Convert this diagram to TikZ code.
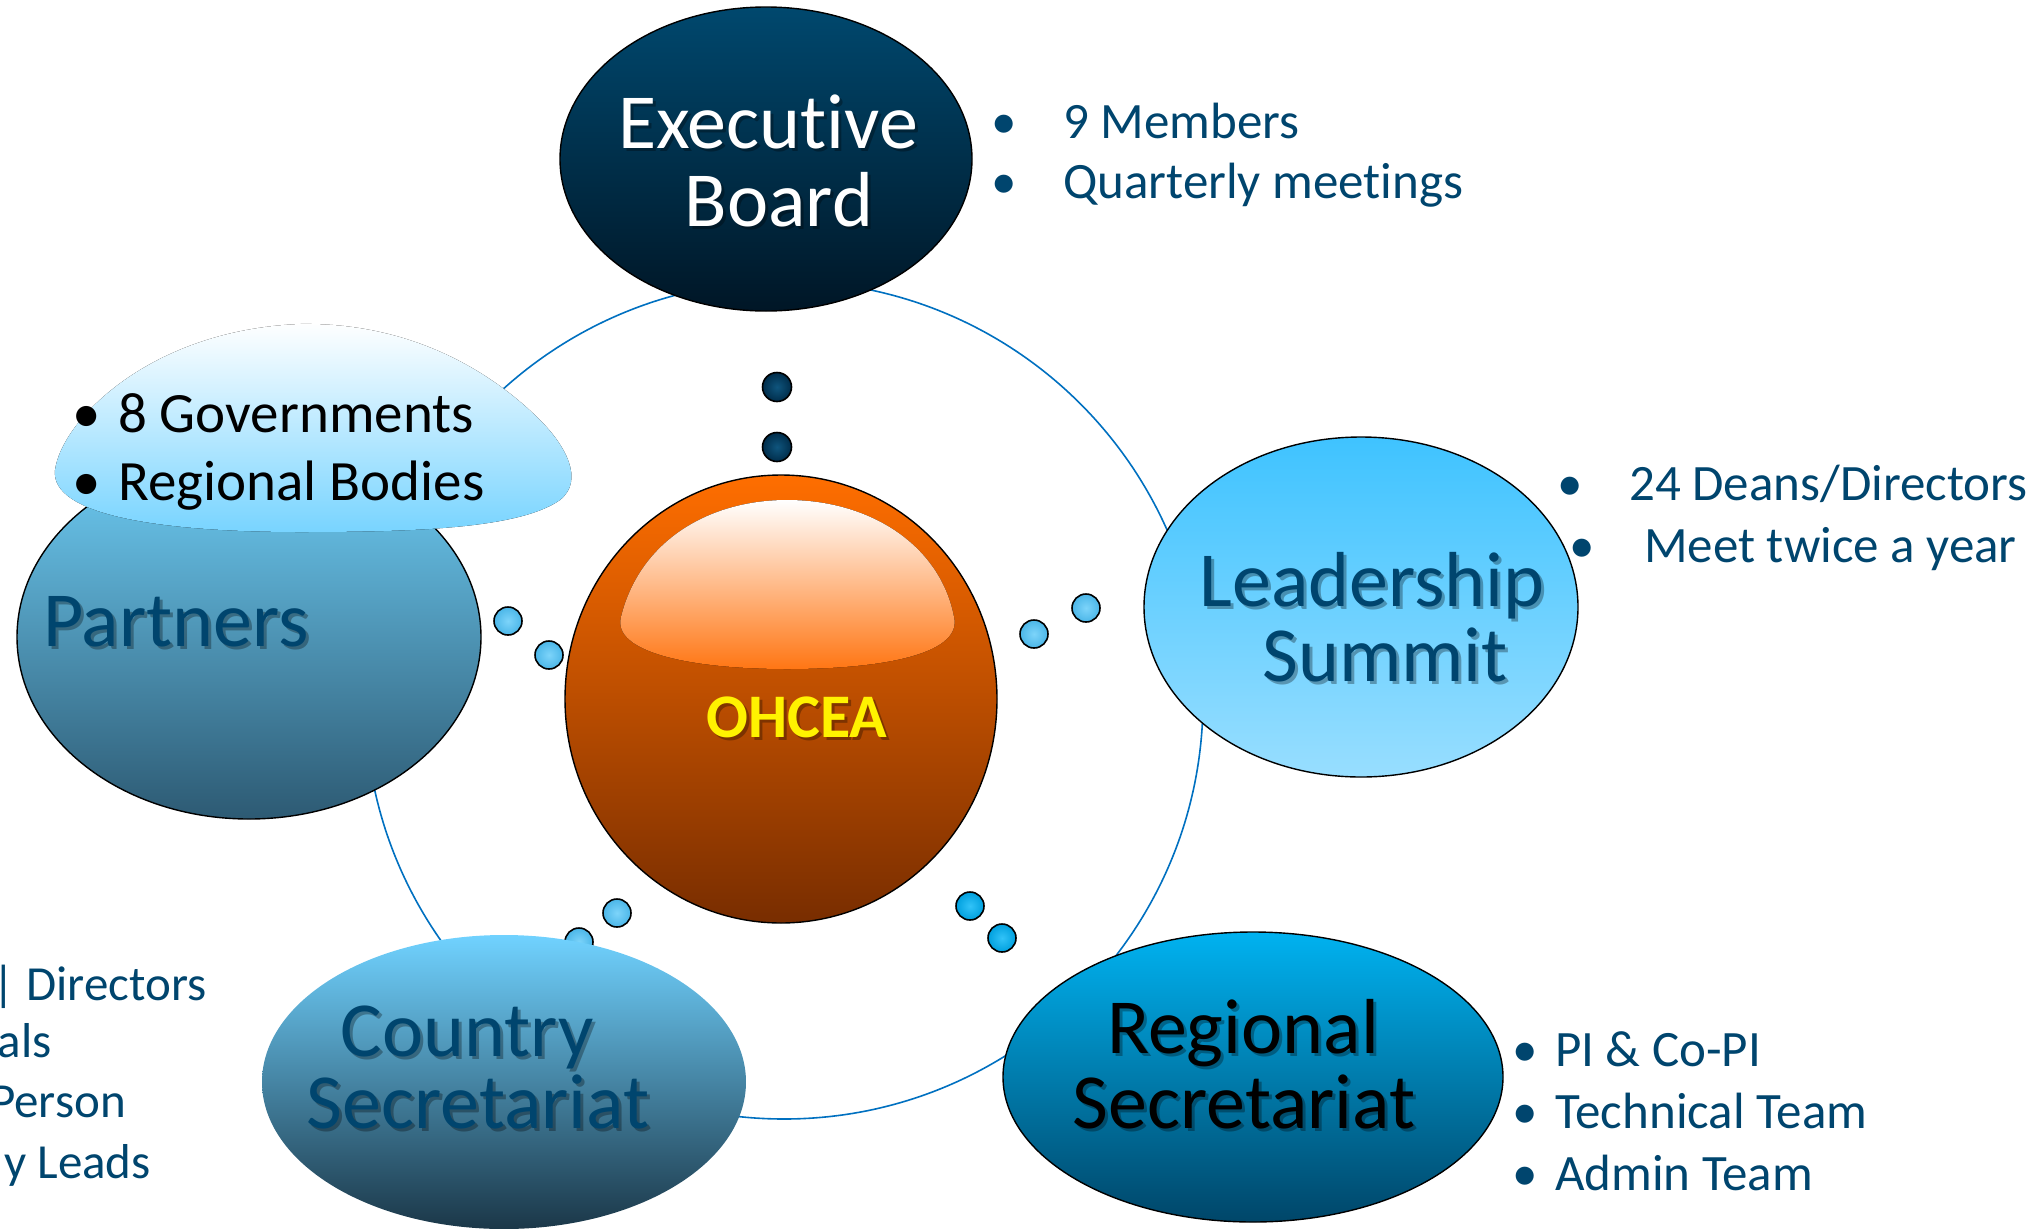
\documentclass[tikz,border=0pt]{standalone}
\usepackage{fontspec}
\setmainfont{Carlito}[Ligatures={NoCommon,NoContextual,NoRare,NoRequired},Contextuals={NoAlternate}]
\usetikzlibrary{shapes.geometric}
\newcommand\nl{\kern0pt }
\definecolor{txtblue}{RGB}{0,69,110}
\definecolor{ringblue}{RGB}{0,112,192}
\definecolor{ebtop}{RGB}{0,72,110}
\definecolor{ebbot}{RGB}{0,22,38}
\definecolor{lstop}{RGB}{63,195,255}
\definecolor{lsbot}{RGB}{152,222,255}
\definecolor{ptop}{RGB}{110,205,245}
\definecolor{pbot}{RGB}{45,90,115}
\definecolor{ctop}{RGB}{112,210,255}
\definecolor{cbot}{RGB}{27,55,72}
\definecolor{rtop}{RGB}{0,178,240}
\definecolor{rbot}{RGB}{0,70,105}
\definecolor{otop}{RGB}{255,110,0}
\definecolor{obot}{RGB}{120,45,0}
\definecolor{hlbot}{RGB}{255,118,20}
\definecolor{cloudbot}{RGB}{120,212,255}
\definecolor{navyin}{RGB}{15,85,125}
\definecolor{navyout}{RGB}{0,45,75}
\definecolor{ltin}{RGB}{125,212,250}
\definecolor{ltout}{RGB}{75,182,232}
\definecolor{cyin}{RGB}{50,195,248}
\definecolor{cyout}{RGB}{0,160,222}
\newcommand\shlabel[5]{%
  \node[biglbl, text=black, opacity=0.3] (#1s) at (#2+3,#3+3) {#5};
  \node[biglbl, text=#4] (#1) at (#2,#3) {#5};}
\begin{document}
\begin{tikzpicture}[x=1pt,y=-1pt,
  bubble/.style={ellipse, draw=black, line width=1.4pt, inner sep=0pt},
  dotnavy/.style={circle, draw=black, line width=1.6pt, inner sep=0pt, minimum size=29pt, inner color=navyin, outer color=navyout},
  dotlt/.style={circle, draw=black, line width=1.6pt, inner sep=0pt, minimum size=28pt, inner color=ltin, outer color=ltout},
  dotcy/.style={circle, draw=black, line width=1.6pt, inner sep=0pt, minimum size=28pt, inner color=cyin, outer color=cyout},
  biglbl/.style={anchor=base, inner sep=0pt, font=\fontsize{78}{78}\selectfont},
  bul/.style={anchor=base west, inner sep=0pt, text=txtblue, font=\fontsize{51}{51}\selectfont},
  cloudtxt/.style={anchor=base west, inner sep=0pt, text=black, font=\fontsize{57}{57}\selectfont},
  cut/.style={anchor=base east, inner sep=0pt, text=txtblue, font=\fontsize{49}{49}\selectfont}]
\useasboundingbox (0,0) rectangle (2038,1229);
% ring
\node[circle, draw=ringblue, line width=1.6pt, inner sep=0pt, minimum size=838pt] (ring) at (784,700) {};
% small dots
\node[dotnavy] (d1) at (777,387) {};
\node[dotnavy] (d2) at (777,447) {};
\node[dotlt] (d3) at (508,621) {};
\node[dotlt] (d4) at (549,655) {};
\node[dotlt] (d5) at (1034,634) {};
\node[dotlt] (d6) at (1086,608) {};
\node[dotlt] (d7) at (617,913) {};
\node[dotlt] (d8) at (579,942) {};
\node[dotcy] (d9) at (970,906) {};
\node[dotcy] (d10) at (1002,938) {};
% main bubbles
\node[bubble, minimum width=412pt, minimum height=304pt, top color=ebtop, bottom color=ebbot] (exec) at (766,159) {};
\node[bubble, minimum width=434pt, minimum height=340pt, top color=lstop, bottom color=lsbot] (lead) at (1361,607) {};
\node[bubble, minimum width=464pt, minimum height=364pt, top color=ptop, bottom color=pbot] (part) at (249,637) {};
\node[ellipse, inner sep=0pt, minimum width=484pt, minimum height=294pt, top color=ctop, bottom color=cbot] (ctry) at (504,1082) {};
\node[bubble, minimum width=500pt, minimum height=290pt, top color=rtop, bottom color=rbot] (reg) at (1253,1077) {};
\node[bubble, minimum width=432pt, minimum height=448pt, top color=otop, bottom color=obot] (ohcea) at (781,699) {};
% highlight on OHCEA
\fill[top color=white, bottom color=hlbot] (621,617) .. controls (640,540) and (710,500) .. (787,500) .. controls (870,500) and (940,545) .. (954,617) .. controls (962,652) and (890,669) .. (787,669) .. controls (690,669) and (612,652) .. (621,617) -- cycle;
% cloud over partners
\fill[top color=white, bottom color=cloudbot] (55,470) .. controls (62,420) and (150,330) .. (300,324) .. controls (420,322) and (500,380) .. (540,420) .. controls (565,445) and (585,480) .. (560,500) .. controls (520,528) and (420,532) .. (300,532) .. controls (160,532) and (50,515) .. (55,470) -- cycle;
% big labels
\shlabel{tex1}{768}{148}{white}{Execut\nl ive}
\shlabel{tex2}{779}{226}{white}{Board}
\shlabel{tls1}{1372}{606}{txtblue}{Leadership}
\shlabel{tls2}{1385}{681}{txtblue}{Summit}
\shlabel{tpa}{176}{646}{txtblue}{Partners}
\shlabel{tcs1}{467}{1056}{txtblue}{Country}
\shlabel{tcs2}{478}{1128}{txtblue}{Secretariat}
\shlabel{trs1}{1243}{1053}{black}{Regional}
\shlabel{trs2}{1244}{1128}{black}{Secretariat}
\node[anchor=base, inner sep=0pt, text=black, opacity=0.3, font=\fontsize{62}{62}\selectfont\bfseries] (tohs) at (800,740) {OHCEA};
\node[anchor=base, inner sep=0pt, text=yellow, font=\fontsize{62}{62}\selectfont\bfseries] (toh) at (797,737) {OHCEA};
% bullet lists
\node[bul] (b1) at (991,138) {\makebox[72pt][l]{•}9 Members};
\node[bul] (b2) at (991,198) {\makebox[72pt][l]{•}Quarterly meetings};
\node[bul] (b3) at (1557,500) {\makebox[72pt][l]{•}24 Deans/Directors};
\node[bul] (b4) at (1569,562) {\makebox[75pt][l]{•}Meet twice a year};
\node[bul] (b5) at (1512,1066) {\makebox[43pt][l]{•}PI \& Co-PI};
\node[bul] (b6) at (1512,1128) {\makebox[43pt][l]{•}Technical Team};
\node[bul] (b7) at (1512,1190) {\makebox[43pt][l]{•}Admin Team};
\node[cloudtxt] (c1) at (72,432) {\makebox[46pt][l]{•}8 Governments};
\node[cloudtxt] (c2) at (72,500) {\makebox[46pt][l]{•}Regional Bodies};
% clipped list on the left
\node[cut] (l1) at (207,1000) {|\hspace{12pt}Directors};
\node[cut] (l2) at (52,1057) {als};
\node[cut] (l3) at (126,1117) {Person};
\node[cut] (l4) at (151,1178) {y Leads};
\end{tikzpicture}
\end{document}
